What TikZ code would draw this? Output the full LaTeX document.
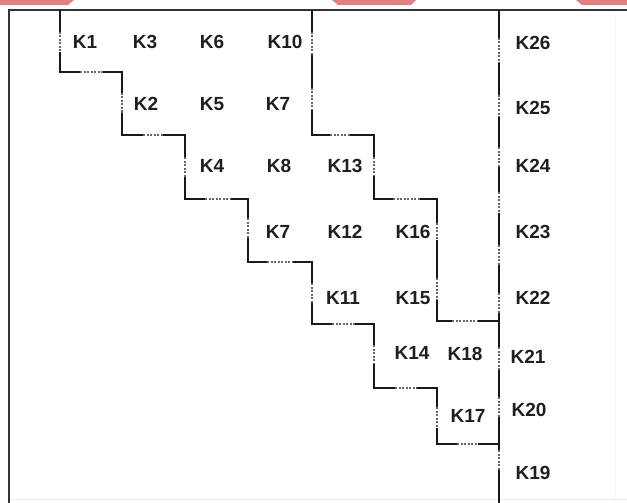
\documentclass[tikz,border=0pt]{standalone}
\usepackage{fontspec}
\setmainfont{Liberation Sans}
\begin{document}
\begin{tikzpicture}[x=1pt,y=-1pt,
  wall/.style={draw=black!90,line width=1.5pt,line join=miter},
  frame/.style={draw=black!80,line width=1.6pt},
  faint/.style={draw=black!7,line width=0.8pt},
  gapmask/.style={draw=white,line width=3pt},
  opening/.style={draw=black!60,line width=1.2pt,dash pattern=on 2pt off 1.5pt},
  lbl/.style={font=\fontsize{19}{21}\selectfont\bfseries,text=black!88,inner sep=0pt,anchor=center},
  redmark/.style={fill={rgb,255:red,224;green,128;blue,128},draw=none}]
\useasboundingbox (0,0) rectangle (627,503);
\newcommand\myvop[3]{\draw[gapmask] (#1,#2) -- (#1,#3); \draw[opening] (#1,#2) -- (#1,#3);}
\newcommand\myhop[3]{\draw[gapmask] (#2,#1) -- (#3,#1); \draw[opening] (#2,#1) -- (#3,#1);}
% red marks at the top edge
\fill[redmark] (0,0) -- (74,0) -- (68,5) -- (0,5) -- cycle;
\fill[redmark] (332,0) -- (416,0) -- (411,5) -- (338,5) -- cycle;
\fill[redmark] (576,0) -- (627,0) -- (627,5) -- (582,5) -- cycle;
% faint outer lines
\draw[faint] (9,499) -- (627,499);
\draw[faint,draw=black!4] (615,12) -- (615,499);
% frame
\draw[frame] (627,10) -- (9,10) -- (9,503);
% walls
\draw[wall] (60,10) -- (60,72) -- (122,72) -- (122,135) -- (185,135) -- (185,199)
  -- (248,199) -- (248,262) -- (312,262) -- (312,324) -- (374,324) -- (374,388)
  -- (437,388) -- (437,444) -- (499,444);
\draw[wall] (312,10) -- (312,135) -- (374,135) -- (374,199) -- (437,199) -- (437,321) -- (499,321);
\draw[wall] (499,10) -- (499,503);
% openings, staircase 1
\myvop{60}{32}{52}
\myhop{72}{80}{103}
\myvop{122}{93}{113}
\myhop{135}{143}{163}
\myvop{185}{157}{177}
\myhop{199}{205}{230}
\myvop{248}{218}{238}
\myhop{262}{267}{293}
\myvop{312}{283}{303}
\myhop{324}{332}{355}
\myvop{374}{345}{363}
\myhop{388}{395}{417}
\myvop{437}{407}{428}
\myhop{444}{457}{478}
% openings, staircase 2
\myvop{312}{32}{55}
\myvop{312}{88}{110}
\myhop{135}{330}{350}
\myvop{374}{157}{175}
\myhop{199}{393}{420}
\myvop{437}{223}{240}
\myvop{437}{278}{300}
\myhop{321}{452}{477}
% openings, right line
\foreach \a/\b in {38/63,95/117,147/167,192/213,245/265,293/313,347/370,397/417,450/470}
  {\myvop{499}{\a}{\b}}
% labels
\node[lbl] (k1) at (85,42) {K1};
\node[lbl] (k3) at (145,42) {K3};
\node[lbl] (k6) at (212,42) {K6};
\node[lbl] (k10) at (285,42) {K10};
\node[lbl] (k2) at (146,104) {K2};
\node[lbl] (k5) at (212,104) {K5};
\node[lbl] (k7a) at (278,104) {K7};
\node[lbl] (k4) at (212,166) {K4};
\node[lbl] (k8) at (279,166) {K8};
\node[lbl] (k13) at (345,166) {K13};
\node[lbl] (k7b) at (278,232) {K7};
\node[lbl] (k12) at (345,232) {K12};
\node[lbl] (k16) at (413,232) {K16};
\node[lbl] (k11) at (343,298) {K11};
\node[lbl] (k15) at (413,298) {K15};
\node[lbl] (k14) at (412,353) {K14};
\node[lbl] (k18) at (465,354) {K18};
\node[lbl] (k17) at (468,416) {K17};
\node[lbl] (k26) at (533,43) {K26};
\node[lbl] (k25) at (533,108) {K25};
\node[lbl] (k24) at (533,166) {K24};
\node[lbl] (k23) at (533,232) {K23};
\node[lbl] (k22) at (533,298) {K22};
\node[lbl] (k21) at (528,357) {K21};
\node[lbl] (k20) at (529,410) {K20};
\node[lbl] (k19) at (533,473) {K19};
\end{tikzpicture}
\end{document}
